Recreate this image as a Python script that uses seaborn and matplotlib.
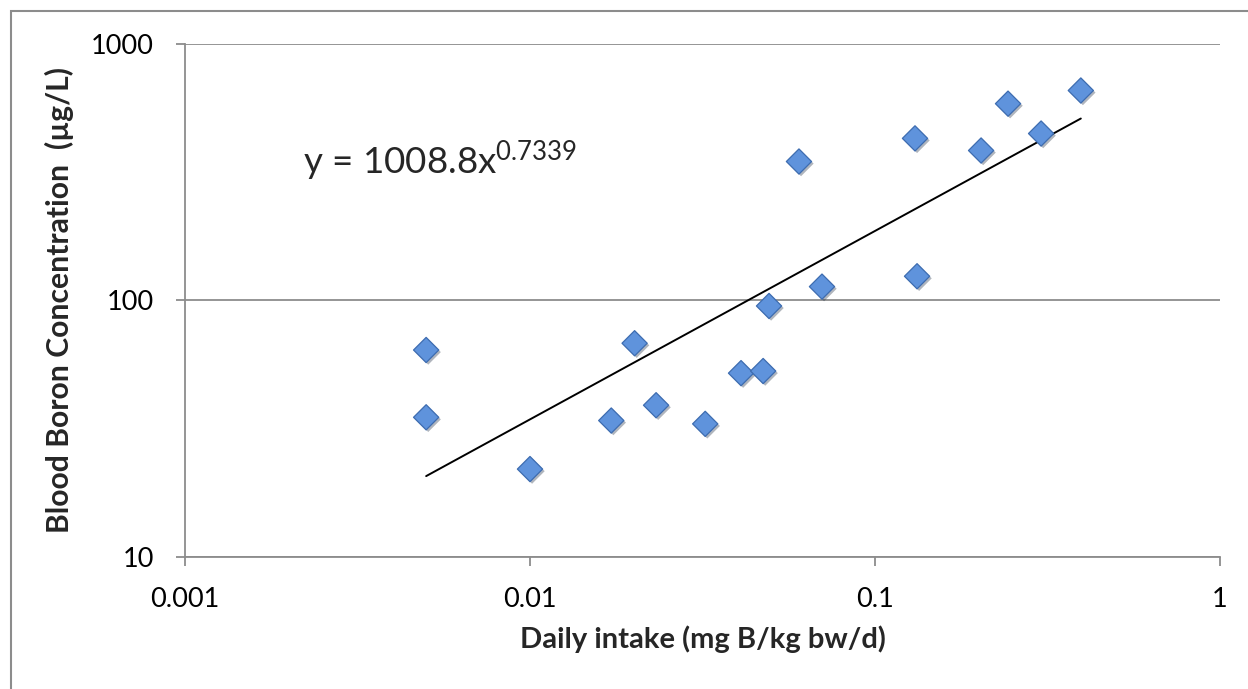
import numpy as np
import pandas as pd
import seaborn as sns
import matplotlib.pyplot as plt
import matplotlib.patheffects as pe
from matplotlib.patches import Rectangle

# dados
intake = [0.005, 0.005, 0.01, 0.0172, 0.0201, 0.0232, 0.0322, 0.0409, 0.0474,
          0.0493, 0.0602, 0.0702, 0.1306, 0.1324, 0.203, 0.243, 0.303, 0.395]
blood_boron = [64, 35, 22, 34, 68, 39, 33, 52, 53,
               95, 347, 113, 427, 124, 383, 583, 446, 656]

# linha de tendência (potência) mostrada no gráfico
coef_a = 1008.8
coef_b = 0.7339

df = pd.DataFrame({'intake': intake, 'boron': blood_boron})
x_fit = np.geomspace(min(intake), max(intake), 50)
trend = pd.DataFrame({'intake': x_fit, 'boron': coef_a * x_fit ** coef_b})

sns.set_theme(style="white")
plt.rcParams['font.family'] = ['Lato', 'DejaVu Sans']
plt.rcParams['mathtext.fontset'] = 'custom'
plt.rcParams['mathtext.rm'] = 'Lato'

fig = plt.figure(figsize=(12.48, 6.89), dpi=100)
ax = fig.add_axes([185 / 1248, 1 - 557 / 689, 1035 / 1248, 513.5 / 689])

grid_c = '#8c8c8c'
ax.set_xscale('log')
ax.set_yscale('log')
ax.set_xlim(0.001, 1)
ax.set_ylim(10, 1000)
ax.set_xticks([0.001, 0.01, 0.1, 1])
ax.set_xticklabels(['0.001', '0.01', '0.1', '1'])
ax.set_yticks([10, 100, 1000])
ax.set_yticklabels(['10', '100', '1000'])
ax.minorticks_off()
ax.yaxis.grid(True, color=grid_c, linewidth=1.3)
ax.xaxis.grid(False)
ax.set_axisbelow(True)

sns.lineplot(x='intake', y='boron', data=trend, color='black', linewidth=1.4, ax=ax)
pts = sns.scatterplot(x='intake', y='boron', data=df, marker='D', s=165,
                      color='#5f93dc', edgecolor='#3d6cb0', linewidth=0.9, ax=ax, zorder=3)
for coll in ax.collections:
    coll.set_path_effects([pe.SimplePatchShadow(offset=(1.5, -1.5), alpha=0.35), pe.Normal()])

for side in ['top', 'right']:
    ax.spines[side].set_visible(False)
for side in ['left', 'bottom']:
    ax.spines[side].set_color(grid_c)
    ax.spines[side].set_linewidth(1.3)

ax.tick_params(axis='both', which='major', length=6.5, width=1.3, color=grid_c,
               labelsize=19.5, labelcolor='black', direction='out')
ax.tick_params(axis='y', pad=16, left=True)
ax.tick_params(axis='x', pad=15, bottom=True)

ax.set_xlabel('Daily intake (mg B/kg bw/d)', fontsize=21, fontweight='bold', labelpad=10)
ax.set_ylabel('Blood Boron Concentration  (µg/L)', fontsize=21.7, fontweight='bold', labelpad=12)

ax.text(0.114, 0.77, r'y = 1008.8x$\mathregular{^{0.7339}}$', transform=ax.transAxes,
        fontsize=26.5, va='center', ha='left')

# moldura do gráfico (só aparecem as bordas esquerda e superior)
fig.patches.append(Rectangle((11 / 1248, -0.1), 2, 1 - 11 / 689 + 0.1,
                             transform=fig.transFigure, fill=False,
                             edgecolor=grid_c, linewidth=1.5))

plt.savefig('out.png', dpi=100)
